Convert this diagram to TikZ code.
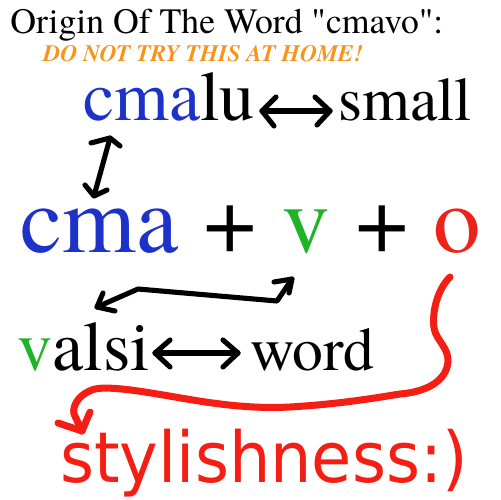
\documentclass[tikz,border=0pt]{standalone}
\usepackage{fontspec}
\setmainfont{texgyretermes}[Extension=.otf, UprightFont=*-regular, BoldFont=*-bold, ItalicFont=*-italic, BoldItalicFont=*-bolditalic, Ligatures=TeXOff]
\newfontfamily\tms{texgyretermes}[Extension=.otf, UprightFont=*-regular, BoldFont=*-bold, ItalicFont=*-italic, BoldItalicFont=*-bolditalic, Ligatures=TeXOff]
\newfontfamily\handfont{DejaVu Sans}
\definecolor{cmablue}{RGB}{28,50,200}
\definecolor{vgreen}{RGB}{30,180,40}
\definecolor{ored}{RGB}{235,35,25}
\definecolor{warn}{RGB}{247,148,29}
\definecolor{hred}{RGB}{245,30,20}
\begin{document}
\begin{tikzpicture}[x=0.02cm,y=-0.02cm,
  txt/.style={inner sep=0pt, anchor=base west},
  blk/.style={draw=black, line width=2.9pt, line cap=round, line join=round},
  redstroke/.style={draw=hred, line width=4pt, line cap=round, line join=round}]
\useasboundingbox (0,0) rectangle (500,500);
% title
\node[txt, font=\tms\fontsize{20.3pt}{24pt}\selectfont] (title) at (10,34) {Origin Of The Word "cmavo":};
\node[txt, font=\tms\fontsize{13.4pt}{17pt}\selectfont\bfseries\itshape, text=warn] (warn) at (43,62) {DO NOT TRY THIS AT HOME!};
% cmalu <-> small
\node[txt, font=\tms\fontsize{40pt}{44pt}\selectfont] (cmalu) at (83,120) {\textcolor{cmablue}{cma}lu};
\node[txt, font=\tms\fontsize{35pt}{40pt}\selectfont] (small) at (338,120) {small};
% main line
\node[txt, font=\tms\fontsize{54pt}{60pt}\selectfont, text=cmablue] (cma) at (20,252) {cma};
\node[txt, font=\tms\fontsize{54pt}{60pt}\selectfont] (plusA) at (203,252) {+};
\node[txt, font=\tms\fontsize{54pt}{60pt}\selectfont, text=vgreen] (v) at (282,252) {v};
\node[txt, font=\tms\fontsize{54pt}{60pt}\selectfont] (plusB) at (355,252) {+};
\node[txt, font=\tms\fontsize{54pt}{60pt}\selectfont, text=ored] (o) at (433,252) {o};
% valsi <-> word
\node[txt, font=\tms\fontsize{40pt}{46pt}\selectfont] (valsi) at (17,370) {\textcolor{vgreen}{v}alsi};
\node[txt, font=\tms\fontsize{35pt}{40pt}\selectfont] (word) at (250,370) {word};
% stylishness
\node[txt, font=\handfont\fontsize{40pt}{44pt}\selectfont, text=hred, xscale=0.93] (styl) at (60,482) {stylishness:)};
% arrow cmalu <-> small
\coordinate (a1l) at (262,111);
\coordinate (a1r) at (330,111);
\draw[blk] (a1l) -- (a1r);
\draw[blk] (276,97) -- (a1l) -- (274,126);
\draw[blk] (315,97) -- (a1r) -- (317,125);
% arrow cmalu <-> cma
\coordinate (a2t) at (110,138);
\coordinate (a2b) at (94,196);
\draw[blk] (a2t) -- (a2b);
\draw[blk] (91,143) -- (a2t) -- (120,146);
\draw[blk] (85,185) -- (a2b) -- (107,190);
% arrow v <-> valsi
\coordinate (a3l) at (97,307);
\coordinate (a3r) at (292,279);
\draw[blk] (a3l) -- (138,289) -- (277,301) -- (a3r);
\draw[blk] (103,293) -- (a3l) -- (115,311);
\draw[blk] (274,282) -- (a3r) -- (289,293);
% arrow valsi <-> word
\coordinate (a4l) at (155,353);
\coordinate (a4r) at (238,353);
\draw[blk] (a4l) -- (a4r);
\draw[blk] (170,340) -- (a4l) -- (170,367);
\draw[blk] (223,340) -- (a4r) -- (223,367);
% red curvy arrow from o to stylishness
\coordinate (rstart) at (450,277);
\coordinate (rtip) at (82,431);
\draw[redstroke] (rstart) .. controls (437,290) and (432,312) .. (434,328)
  .. controls (436,340) and (449,348) .. (448,362)
  .. controls (446,382) and (425,392) .. (400,394)
  .. controls (375,398) and (340,404) .. (290,407)
  .. controls (250,409) and (215,404) .. (175,397)
  .. controls (140,391) and (110,386) .. (95,389)
  .. controls (80,393) and (72,405) .. (74,414)
  -- (rtip);
\draw[redstroke] (90,412) -- (rtip) -- (58,423);
\end{tikzpicture}
\end{document}
